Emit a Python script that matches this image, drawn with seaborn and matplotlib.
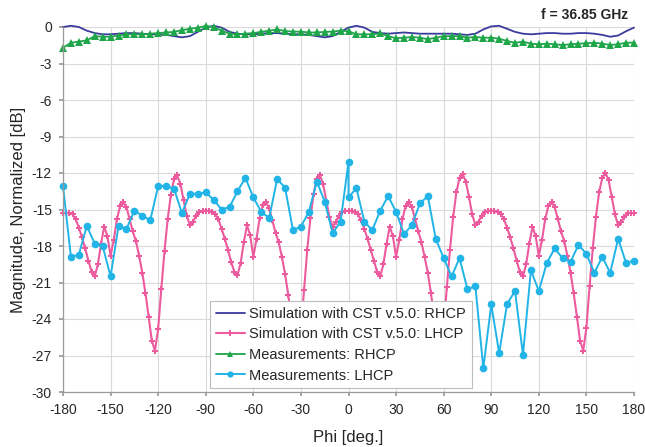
import numpy as np
import pandas as pd
import matplotlib
matplotlib.use("Agg")
import matplotlib.pyplot as plt
import seaborn as sns

# ---------------- data ----------------
phi_sim_lhcp = list(range(-180, 181, 2))
sim_lhcp = [
    -15.3, -15.3, -15.3, -15.4, -15.8, -16.5, -17.3, -18.2, -19.2, -20.1,
    -20.5, -19.5, -17.8, -16.4, -17.2, -18.8, -17.5, -15.8, -14.7, -14.4,
    -14.8, -15.8, -16.8, -17.6, -18.8, -20.2, -21.9, -23.8, -25.8, -26.6,
    -24.8, -21.5, -18.4, -15.8, -13.8, -12.5, -12.2, -12.9, -14.2, -15.5,
    -16.3, -16.0, -15.5, -15.2, -15.1,
    -15.1, -15.1, -15.2, -15.4, -15.8, -16.6, -17.4, -18.3, -19.3, -20.1,
    -20.4, -19.4, -17.7, -16.3, -17.1, -18.9, -17.4, -15.7, -14.6, -14.4,
    -14.9, -15.9, -16.9, -17.7, -18.9, -20.3, -22.0, -23.9, -25.9, -26.7,
    -24.9, -21.6, -18.3, -15.7, -13.7, -12.5, -12.2, -12.9, -14.3, -15.6,
    -16.4, -16.0, -15.5, -15.2, -15.1,
    -15.1, -15.1, -15.2, -15.4, -15.9, -16.6, -17.4, -18.3, -19.2, -20.1,
    -20.5, -19.5, -17.8, -16.4, -17.2, -18.9, -17.5, -15.8, -14.7, -14.4,
    -14.8, -15.8, -16.8, -17.7, -18.9, -20.2, -21.9, -23.8, -25.8, -26.6,
    -24.8, -21.4, -18.3, -15.6, -13.6, -12.4, -12.1, -12.7, -14.0, -15.4,
    -16.3, -16.0, -15.5, -15.2, -15.1,
    -15.1, -15.1, -15.2, -15.4, -15.8, -16.5, -17.3, -18.2, -19.2, -20.1,
    -20.5, -19.5, -17.8, -16.4, -17.2, -18.8, -17.5, -15.8, -14.7, -14.4,
    -14.8, -15.8, -16.8, -17.6, -18.8, -20.2, -21.9, -23.8, -25.8, -26.6,
    -24.7, -21.3, -18.2, -15.6, -13.6, -12.4, -12.0, -12.6, -14.0, -15.4,
    -16.3, -16.0, -15.6, -15.3, -15.3,
    -15.3,
]

phi_5 = list(range(-180, 181, 5))
sim_rhcp = [
    0.0, 0.1, 0.0, -0.3, -0.5, -0.6, -0.6, -0.55, -0.5, -0.5,
    -0.55, -0.6, -0.6, -0.65, -0.75, -0.85, -0.75, -0.4, -0.05, 0.1,
    -0.05, -0.4, -0.55, -0.6, -0.6, -0.55, -0.5, -0.5, -0.55, -0.6,
    -0.6, -0.65, -0.75, -0.85, -0.75, -0.4, -0.05, 0.1, -0.05, -0.4,
    -0.5, -0.55, -0.5, -0.45, -0.5, -0.55, -0.55, -0.55, -0.55, -0.55,
    -0.6, -0.65, -0.55, -0.2, 0.05, 0.1, -0.15, -0.4, -0.55, -0.6,
    -0.55, -0.5, -0.5, -0.55, -0.55, -0.5, -0.5, -0.55, -0.65, -0.8,
    -0.7, -0.35, -0.05,
]

meas_rhcp = [
    -1.7, -1.3, -1.2, -1.1, -0.75, -0.8, -0.8, -0.7, -0.6, -0.6,
    -0.6, -0.55, -0.5, -0.45, -0.4, -0.25, -0.15, -0.05, 0.08, 0.0,
    -0.3, -0.55, -0.6, -0.55, -0.5, -0.4, -0.3, -0.2, -0.33, -0.38,
    -0.38, -0.45, -0.45, -0.4, -0.38, -0.3, -0.35, -0.6, -0.6, -0.6,
    -0.52, -0.75, -0.93, -0.88, -0.82, -0.88, -1.0, -0.88, -0.75, -0.75,
    -0.75, -0.88, -0.82, -0.88, -0.88, -0.96, -1.15, -1.3, -1.2, -1.37,
    -1.42, -1.37, -1.42, -1.48, -1.42, -1.37, -1.34, -1.29, -1.37, -1.48,
    -1.42, -1.29, -1.29,
]

phi_meas_lhcp = (list(range(-180, 1, 5)) + list(range(0, 181, 5)))
meas_lhcp = [
    -13.07, -18.9, -18.7, -16.35, -17.8, -18.0, -20.5, -16.35, -16.6, -15.1,
    -15.5, -15.9, -13.07, -13.07, -13.3, -15.3, -13.7, -13.7, -13.6, -14.2,
    -15.0, -14.8, -13.5, -12.4, -14.0, -15.2, -15.7, -12.5, -13.2, -16.7,
    -16.4, -15.2, -12.7, -14.35, -16.95, -16.0, -11.07,
    -14.0, -13.25, -16.0, -16.7, -15.1, -13.9, -15.2, -17.0, -16.3, -14.5,
    -13.9, -17.4, -19.0, -20.5, -19.0, -21.55, -21.3, -28.05, -22.8, -26.8,
    -22.75, -21.7, -26.95, -20.0, -21.7, -19.4, -18.2, -19.0, -19.3, -17.9,
    -18.65, -20.2, -18.9, -20.2, -17.4, -19.4, -19.2,
]

labels = [
    "Simulation with CST v.5.0: RHCP",
    "Simulation with CST v.5.0: LHCP",
    "Measurements: RHCP",
    "Measurements: LHCP",
]
x_ticks = list(range(-180, 181, 30))
y_ticks = list(range(-30, 1, 3))

# ---------------- style ----------------
sns.set_theme(style="white")
plt.rcParams["font.family"] = ["Liberation Sans", "DejaVu Sans"]
plt.rcParams["axes.unicode_minus"] = False
text_col = "#262626"

fig = plt.figure(figsize=(6.45, 4.47), dpi=100)
ax = fig.add_axes([63 / 645, 1 - 392 / 447, (634 - 63) / 645, (392 - 27) / 447])

c_blue = "#3b3b9e"
c_pink = "#ec5b9d"
c_green = "#1fa54a"
c_cyan = "#22b4e6"

sns.lineplot(x=phi_5, y=sim_rhcp, ax=ax, color=c_blue, lw=1.3,
             estimator=None, sort=False, label=labels[0])
sns.lineplot(x=phi_sim_lhcp, y=sim_lhcp, ax=ax, color=c_pink, lw=1.5,
             marker="P", markersize=5, markeredgewidth=0, markerfacecolor=c_pink,
             estimator=None, sort=False, label=labels[1])
sns.lineplot(x=phi_5, y=meas_rhcp, ax=ax, color=c_green, lw=1.3,
             marker="^", markersize=5.5, markeredgewidth=0, markerfacecolor=c_green,
             estimator=None, sort=False, label=labels[2])
sns.lineplot(x=phi_meas_lhcp, y=meas_lhcp, ax=ax, color=c_cyan, lw=1.4,
             marker="o", markersize=5.5, markeredgewidth=0, markerfacecolor=c_cyan,
             estimator=None, sort=False, label=labels[3])

for ln in ax.get_lines():
    ln.set_clip_on(False)

ax.set_xlim(-180, 180)
ax.set_ylim(-30, 0)
ax.set_xticks(x_ticks)
ax.set_yticks(y_ticks)
ax.grid(True, color="#dadada", lw=0.8)
ax.set_axisbelow(True)
for s in ["top", "right"]:
    ax.spines[s].set_visible(False)
for s in ["left", "bottom"]:
    ax.spines[s].set_color("#9a9a9a")
    ax.spines[s].set_linewidth(0.9)
ax.tick_params(axis="both", labelsize=10, colors=text_col, length=3,
               color="#9a9a9a", direction="out", bottom=True, left=True, pad=5)

ax.set_xlabel("Phi [deg.]", fontsize=12, color=text_col, labelpad=9)
ax.set_ylabel("Magnitude, Normalized [dB]", fontsize=12, color=text_col, labelpad=4)

ax.text(0.99, 1.033, "f = 36.85 GHz", transform=ax.transAxes, ha="right",
        va="center", fontsize=10, fontweight="bold", color=text_col)

leg = ax.legend(loc="lower left", bbox_to_anchor=(0.257, 0.01), borderaxespad=0,
                fontsize=10.5, frameon=True, fancybox=False, framealpha=1,
                edgecolor="#bdbdbd", handlelength=2.0, handletextpad=0.3,
                labelspacing=0.45, borderpad=0.4)
leg.get_frame().set_linewidth(0.8)
for t in leg.get_texts():
    t.set_color(text_col)
for h in leg.legend_handles:
    h.set_markersize(4.5)

fig.savefig("out.png", dpi=100)
